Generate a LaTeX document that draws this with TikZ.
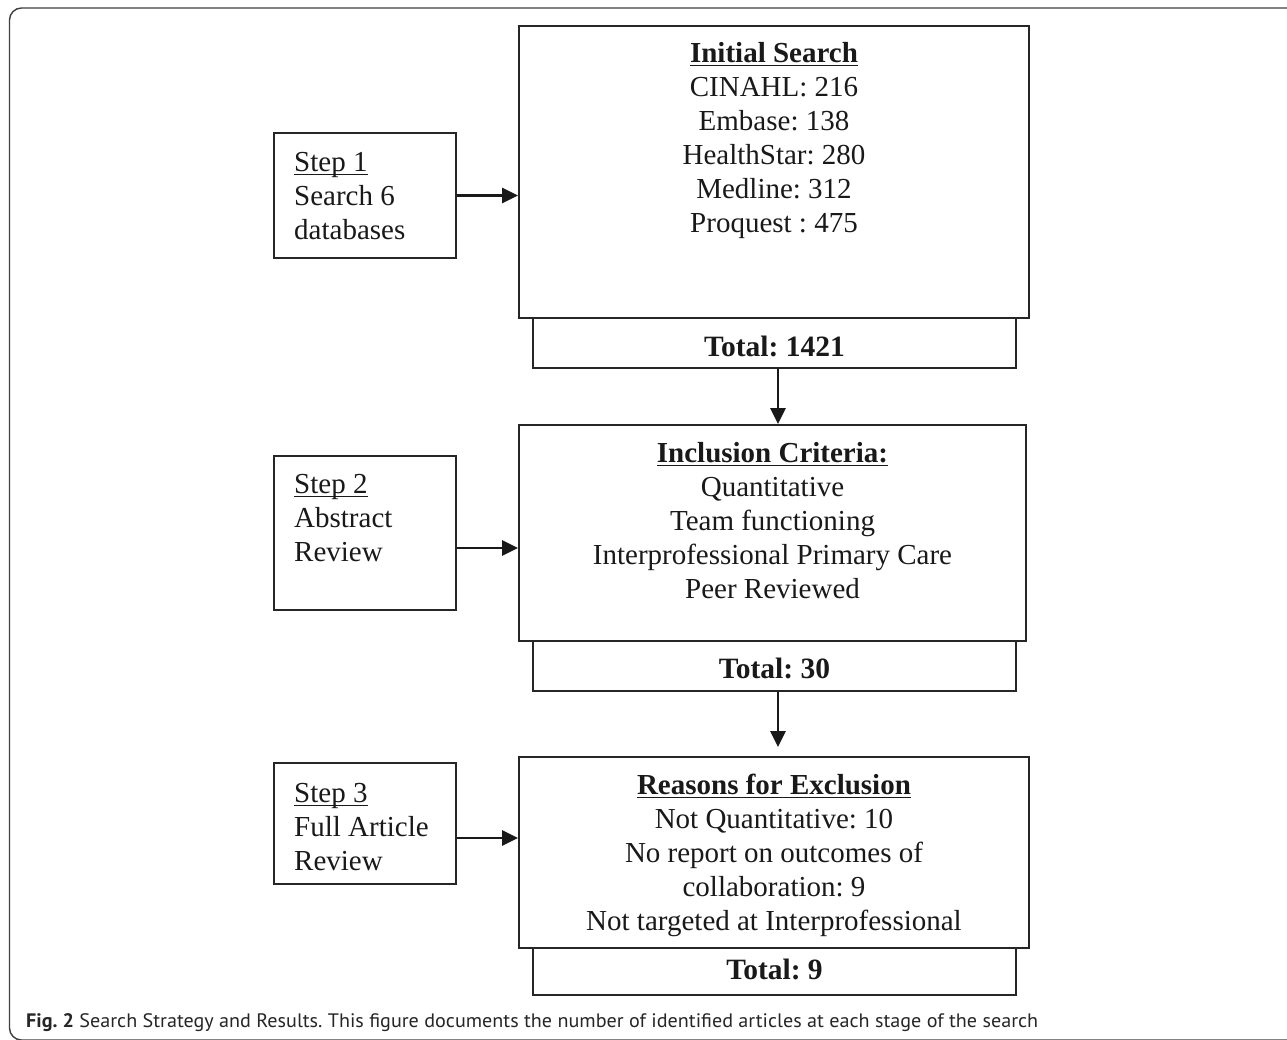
\documentclass[tikz,border=0pt]{standalone}
\usepackage{graphicx}
\usepackage{fontspec}
\setmainfont{Liberation Serif}
\newfontfamily\capfont{PT Sans}
\usetikzlibrary{arrows.meta}
\frenchspacing
\newcommand\myul[1]{\setbox0\hbox{#1}\rlap{\rule[-4pt]{\wd0}{1.6pt}}\box0}
\newcommand\firstline{\rule{0pt}{22pt}}
\begin{document}
\begin{tikzpicture}[x=1pt,y=-1pt,
  box/.style={draw=black!85, line width=1.8pt, rectangle, inner sep=0pt},
  txt/.style={font=\fontsize{29}{34}\selectfont, inner sep=0pt, text=black!90},
  ctxt/.style={txt, align=center, anchor=north},
  ltxt/.style={txt, align=left, anchor=north west},
  ttxt/.style={txt, anchor=base, font=\fontsize{29.5}{34}\selectfont\bfseries},
  arr/.style={line width=2.8pt, draw=black!90, -{Triangle[length=16pt,width=15pt]}}]
\useasboundingbox (0,0) rectangle (1287,1039);
\clip (0,0) rectangle (1287,1039);
\fill[white] (0,0) rectangle (1287,1039);
% outer frame
\draw[line width=1.4pt, draw=black!75, rounded corners=12pt]
  (1300,1040) -- (9.5,1040) -- (9.5,8) -- (1300,8);
% step boxes
\node[box, minimum width=182pt, minimum height=125pt] (s1) at (365,195.5) {};
\node[box, minimum width=182pt, minimum height=154pt] (s2) at (365,533) {};
\node[box, minimum width=182pt, minimum height=121pt] (s3) at (365,823.5) {};
% main boxes
\node[box, minimum width=510pt, minimum height=292pt] (init) at (774,172) {};
\node[box, minimum width=507pt, minimum height=216pt] (incl) at (772.5,533) {};
\node[box, minimum width=510pt, minimum height=191pt] (excl) at (774,852.5) {};
% total boxes
\node[box, minimum width=483pt, minimum height=50pt] (tot1) at (774.5,343) {};
\node[box, minimum width=483pt, minimum height=50pt] (tot2) at (774.5,666) {};
\node[box, minimum width=483pt, minimum height=47pt] (tot3) at (774.5,971.5) {};
% texts
\node[ltxt] (s1t) at (294,149) {\firstline\myul{Step 1}\\Search 6\\databases};
\node[ltxt] (s2t) at (294,471) {\firstline\myul{Step 2}\\Abstract\\Review};
\node[ltxt] (s3t) at (294,780) {\firstline\myul{Step 3}\\Full Article\\Review};
\node[ctxt] (initt) at (774,40) {\firstline\myul{\textbf{Initial Search}}\\CINAHL: 216\\Embase: 138\\HealthStar: 280\\Medline: 312\\Proquest : 475};
\node[ctxt] (inclt) at (772.5,440) {\firstline\myul{\textbf{Inclusion Criteria:}}\\Quantitative\\Team functioning\\Interprofessional Primary Care\\Peer Reviewed};
\node[ctxt] (exclt) at (774,772) {\firstline\myul{\textbf{Reasons for Exclusion}}\\Not Quantitative: 10\\No report on outcomes of\\collaboration: 9\\Not targeted at Interprofessional};
\node[ttxt] (tot1t) at (774.5,356) {Total: 1421};
\node[ttxt] (tot2t) at (774.5,678) {Total: 30};
\node[ttxt] (tot3t) at (774.5,979) {Total: 9};
% horizontal arrows
\draw[arr] (s1.east) -- (s1.east -| init.west);
\draw[arr] ([yshift=-15pt]s2.east) -- ([yshift=-15pt]s2.east -| incl.west);
\draw[arr] ([yshift=-14.5pt]s3.east) -- ([yshift=-14.5pt]s3.east -| excl.west);
% vertical arrows
\coordinate (a1s) at ([xshift=3.5pt]tot1.south);
\coordinate (a1e) at (a1s |- incl.north);
\draw[arr] (a1s) -- (a1e);
\coordinate (a2s) at ([xshift=3.5pt]tot2.south);
\coordinate (a2t) at (a2s |- excl.north);
\coordinate (a2e) at ([yshift=9pt]a2t);
\draw[arr] (a2s) -- (a2e);
% caption
\node[anchor=base west, inner sep=0pt, text=black!85,
  font=\capfont\fontsize{19.5}{22}\selectfont] (cap) at (26,1027)
  {\resizebox{1012pt}{\height}{\textbf{Fig. 2} Search Strategy and Results. This figure documents the number of identified articles at each stage of the search}};
\end{tikzpicture}
\end{document}
